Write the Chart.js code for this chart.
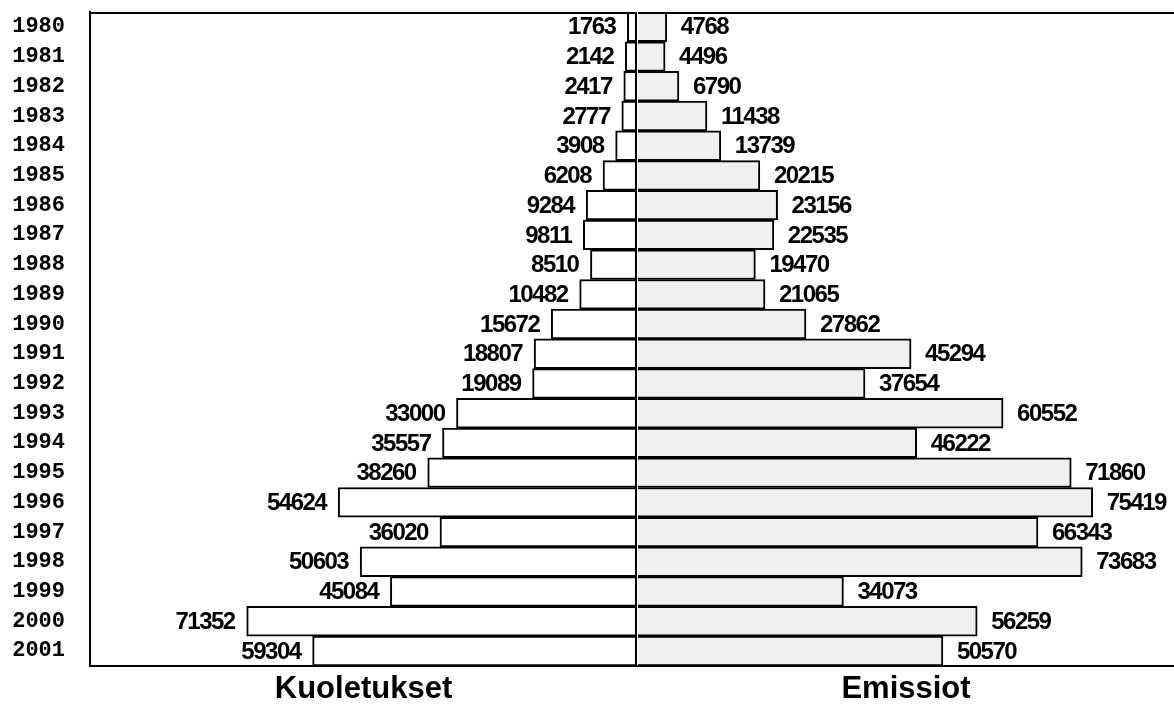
<!DOCTYPE html>
<html>
<head>
<meta charset="utf-8">
<script src="https://cdn.jsdelivr.net/npm/chart.js@4.4.1/dist/chart.umd.min.js"></script>
<style>
body { margin: 0; background: #fff; }
#wrap { position: relative; width: 1174px; height: 708px; }
canvas { position: absolute; top: 0; }
</style>
</head>
<body>
<div id="wrap">
  <canvas id="left" width="637" height="708" style="left:0"></canvas>
  <canvas id="right" width="537" height="708" style="left:637px"></canvas>
</div>
<script>
const years = ['1980', '1981', '1982', '1983', '1984', '1985', '1986', '1987', '1988', '1989', '1990',
               '1991', '1992', '1993', '1994', '1995', '1996', '1997', '1998', '1999', '2000', '2001'];
const kuoletukset = [1763, 2142, 2417, 2777, 3908, 6208, 9284, 9811, 8510, 10482, 15672,
                     18807, 19089, 33000, 35557, 38260, 54624, 36020, 50603, 45084, 71352, 59304];
const emissiot = [4768, 4496, 6790, 11438, 13739, 20215, 23156, 22535, 19470, 21065, 27862,
                  45294, 37654, 60552, 46222, 71860, 75419, 66343, 73683, 34073, 56259, 50570];

// numbers next to the bar ends
const valueLabels = {
    id: 'valueLabels',
    afterDatasetsDraw(chart, args, opts) {
        const ctx = chart.ctx;
        const meta = chart.getDatasetMeta(0);
        const data = chart.data.datasets[0].data;
        ctx.save();
        ctx.font = 'bold 24px "Liberation Sans", Arial, sans-serif';
        ctx.letterSpacing = '-1.5px';
        ctx.fillStyle = '#000';
        ctx.textBaseline = 'middle';
        ctx.textAlign = opts.side === 'left' ? 'right' : 'left';
        meta.data.forEach((bar, i) => {
            const x = opts.side === 'left' ? bar.x - 12 : bar.x + 14;
            ctx.fillText(String(data[i]), x, bar.y + 1);
        });
        ctx.restore();
    }
};

// top line and the middle line
const frame = {
    id: 'frame',
    afterDatasetsDraw(chart, args, opts) {
        const ctx = chart.ctx;
        const a = chart.chartArea;
        ctx.save();
        ctx.strokeStyle = '#000';
        ctx.lineWidth = 2;
        ctx.beginPath();
        ctx.moveTo(a.left, a.top + 1);
        ctx.lineTo(a.right, a.top + 1);
        if (opts.center) {
            ctx.moveTo(a.right - 1, a.top);
            ctx.lineTo(a.right - 1, a.bottom);
        }
        ctx.stroke();
        ctx.restore();
    }
};

const titleFont = { family: '"Liberation Sans", Arial, sans-serif', size: 31, weight: 'bold' };

function xAxis(title, max, reverse) {
    return {
        reverse: reverse,
        min: 0,
        max: max,
        grid: { display: false, drawTicks: false },
        border: { display: true, color: '#000', width: 2 },
        ticks: { display: false },
        title: { display: true, text: title, color: '#000', font: titleFont, padding: { top: 5, bottom: 0 } }
    };
}

new Chart(document.getElementById('left').getContext('2d'), {
    type: 'bar',
    data: {
        labels: years,
        datasets: [{
            label: 'Kuoletukset',
            data: kuoletukset,
            backgroundColor: '#fff',
            borderColor: '#000',
            borderWidth: 2,
            barPercentage: 1,
            categoryPercentage: 1
        }]
    },
    options: {
        indexAxis: 'y',
        responsive: false,
        animation: false,
        layout: { padding: { top: 12, left: 12, right: 0, bottom: 0 } },
        scales: {
            x: xAxis('Kuoletukset', 100000, true),
            y: {
                position: 'left',
                grid: { display: false, drawTicks: false },
                border: { display: true, color: '#000', width: 2 },
                ticks: {
                    color: '#000',
                    padding: 25,
                    autoSkip: false,
                    font: { family: '"Liberation Mono", "Courier New", monospace', size: 22, weight: 'bold' }
                },
                afterFit(scale) {
                    scale.width = 78;
                    scale.paddingTop = 0;
                    scale.paddingBottom = 0;
                }
            }
        },
        plugins: {
            legend: { display: false },
            tooltip: { enabled: false },
            valueLabels: { side: 'left' },
            frame: { center: true }
        }
    },
    plugins: [valueLabels, frame]
});

new Chart(document.getElementById('right').getContext('2d'), {
    type: 'bar',
    data: {
        labels: years,
        datasets: [{
            label: 'Emissiot',
            data: emissiot,
            backgroundColor: '#f0f0f0',
            borderColor: '#000',
            borderWidth: 2,
            barPercentage: 1,
            categoryPercentage: 1
        }]
    },
    options: {
        indexAxis: 'y',
        responsive: false,
        animation: false,
        layout: { padding: { top: 12, left: 1, right: 0, bottom: 0 } },
        scales: {
            x: xAxis('Emissiot', 88900, false),
            y: { display: false }
        },
        plugins: {
            legend: { display: false },
            tooltip: { enabled: false },
            valueLabels: { side: 'right' },
            frame: { center: false }
        }
    },
    plugins: [valueLabels, frame]
});
</script>
</body>
</html>
